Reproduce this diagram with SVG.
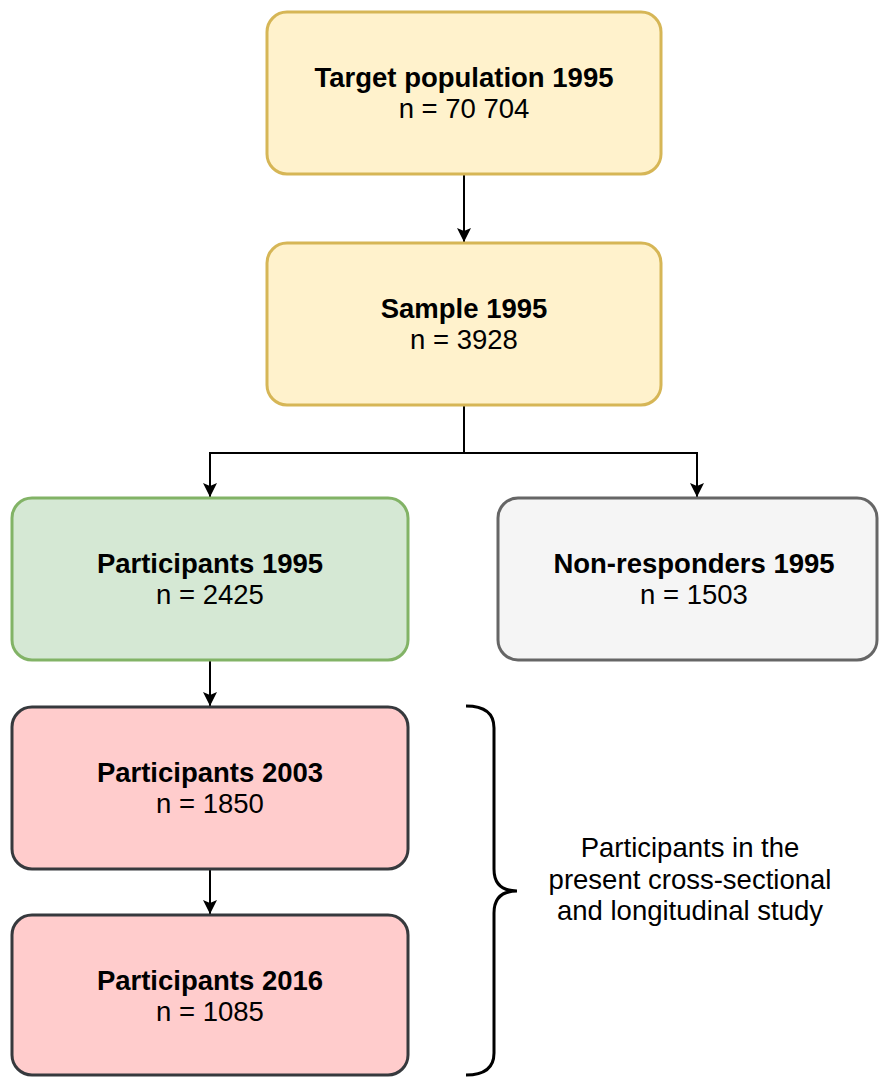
<svg xmlns="http://www.w3.org/2000/svg" width="881" height="1077" viewBox="0 0 881 1077">
<style>
.box{stroke-width:3}
.yel{fill:#fff2cc;stroke:#d6b656}
.grn{fill:#d5e8d4;stroke:#82b366}
.gry{fill:#f5f5f5;stroke:#666666}
.red{fill:#ffcccc;stroke:#36393d}
text{font-family:"Liberation Sans",Arial,Helvetica,sans-serif;font-size:27.5px;fill:#000;text-anchor:middle}
.b{font-weight:bold}
.conn{fill:none;stroke:#000;stroke-width:2}
.brace{fill:none;stroke:#000;stroke-width:3}
</style>
<defs>
<marker id="arr" markerUnits="userSpaceOnUse" markerWidth="16" markerHeight="16" refX="14" refY="7" orient="auto">
<path d="M0,0 L14,7 L0,14 L3,7 z" fill="#000"/>
</marker>
</defs>
<rect width="881" height="1077" fill="#fff"/>
<g id="connectors">
<path class="conn" d="M464,175 L464,242" marker-end="url(#arr)"/>
<path class="conn" d="M464,406 L464,453 L210,453 L210,497" marker-end="url(#arr)"/>
<path class="conn" d="M464,453 L697,453 L697,497" marker-end="url(#arr)"/>
<path class="conn" d="M210,661 L210,706" marker-end="url(#arr)"/>
<path class="conn" d="M210,870 L210,914" marker-end="url(#arr)"/>
</g>
<g id="target">
<rect class="box yel" x="267" y="12" width="394" height="162" rx="20"/>
<text class="b" x="464" y="87">Target population 1995</text>
<text x="464" y="118">n = 70 704</text>
</g>
<g id="sample">
<rect class="box yel" x="267" y="243" width="394" height="162" rx="20"/>
<text class="b" x="464" y="318">Sample 1995</text>
<text x="464" y="349">n = 3928</text>
</g>
<g id="participants1995">
<rect class="box grn" x="12" y="498" width="396" height="162" rx="20"/>
<text class="b" x="210" y="573">Participants 1995</text>
<text x="210" y="604">n = 2425</text>
</g>
<g id="nonresponders">
<rect class="box gry" x="498" y="498" width="379" height="162" rx="20"/>
<text class="b" x="694" y="573">Non-responders 1995</text>
<text x="694" y="604">n = 1503</text>
</g>
<g id="participants2003">
<rect class="box red" x="12" y="707" width="396" height="162" rx="20"/>
<text class="b" x="210" y="782">Participants 2003</text>
<text x="210" y="813">n = 1850</text>
</g>
<g id="participants2016">
<rect class="box red" x="12" y="915" width="396" height="160" rx="20"/>
<text class="b" x="210" y="990">Participants 2016</text>
<text x="210" y="1021">n = 1085</text>
</g>
<g id="brace">
<path class="brace" d="M466,706 Q494,706 494,728 L494,869 Q494,891 517,891 M517,891 Q494,891 494,913 L494,1053 Q494,1075 466,1075"/>
<text x="690" y="857">Participants in the</text>
<text x="690" y="889">present cross-sectional</text>
<text x="690" y="920">and longitudinal study</text>
</g>
</svg>
